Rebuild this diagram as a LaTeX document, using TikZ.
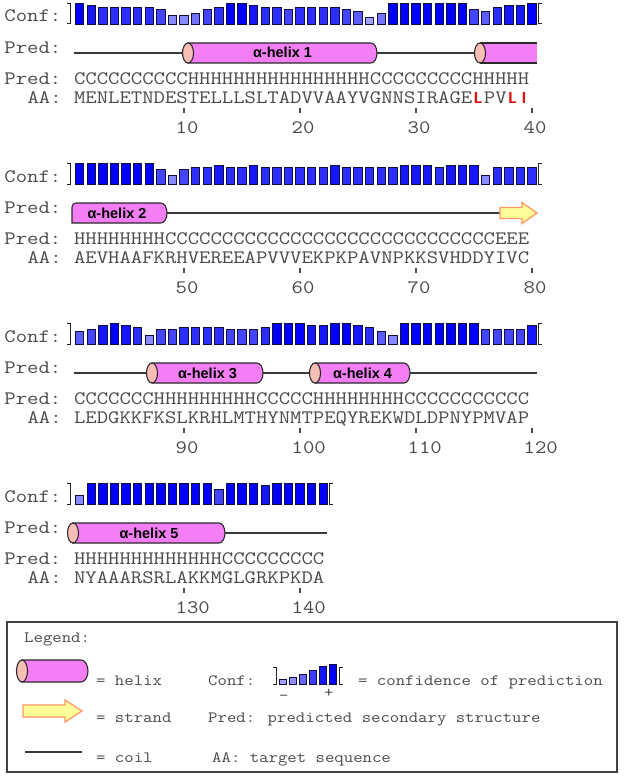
\documentclass[tikz,border=0pt]{standalone}
\usepackage{graphicx}
\usepackage{fontspec}
\setmainfont{Liberation Sans}
\newcommand\seqfont{\ttfamily\fontsize{19}{19}\selectfont}
\newcommand\legfont{\ttfamily\fontsize{15.7}{15.7}\selectfont}
\newcommand\hlxfont{\bfseries\fontsize{14.5}{14.5}\selectfont}
\newcommand\sq[1]{\scalebox{1.163}[1]{#1}}
\definecolor{txt}{HTML}{4A4A4A}
\definecolor{hlx}{HTML}{F47EF4}
\definecolor{hcap}{HTML}{F8BDB5}
\definecolor{outl}{HTML}{2A2A2A}
\definecolor{strf}{HTML}{FFFF99}
\definecolor{strd}{HTML}{FF9966}
\definecolor{barline}{HTML}{101040}
\definecolor{coilc}{HTML}{3A3A3A}
\definecolor{redres}{HTML}{DD1515}
\newcommand\redres[1]{\makebox[9.975pt][c]{\scalebox{0.86}[1]{\color{redres}\sffamily\bfseries\fontsize{16}{16}\selectfont #1}}}
\tikzset{
  lbl/.style={anchor=base west, inner sep=0pt, font=\seqfont, text=txt},
  leg/.style={anchor=base west, inner sep=0pt, font=\legfont, text=txt},
  hlxbody/.style={fill=hlx, draw=outl, line width=1.1pt},
  hlxcap/.style={fill=hcap, draw=outl, line width=1.1pt},
  coilline/.style={draw=coilc, line width=1.4pt},
  strandarrow/.style={fill=strf, draw=strd, line width=1.3pt, line join=miter},
  confbar/.style={draw=barline, line width=0.7pt},
  brk/.style={draw=black!85, line width=1pt},
  tickmark/.style={draw=txt, line width=1.4pt},
  hlxlabel/.style={font=\hlxfont, inner sep=0pt, text=black, anchor=base},
}
% helix with entry cap: xl, xr, yc, label, name
\newcommand\helixfull[5]{%
  \filldraw[hlxbody] (#1,#3-10) -- (#2-6,#3-10) arc[start angle=-90,end angle=90,x radius=6,y radius=10] -- (#1,#3+10) -- cycle;
  \filldraw[hlxcap] (#1,#3) ellipse[x radius=5.5,y radius=10];
  \node[hlxlabel] (#5) at ({(#1+#2)/2},#3+5) {#4};
}
% conf bars: y0, list
\newcommand\confrow[2]{%
  \foreach \c [count=\i] in {#2} {
    \pgfmathsetmacro\xc{79.6+(\i-1)*11.6}
    \pgfmathsetmacro\hh{3+2*\c}
    \pgfmathtruncatemacro\pp{100-(9-\c)*9}
    \filldraw[confbar, fill=blue!\pp!white] (\xc-4.2,#1+24) rectangle (\xc+4.2,#1+24-\hh);
  }
}
% brackets: y0, x of right bracket
\newcommand\confbrk[2]{%
  \draw[brk] (67,#1+3.5) -- (70.5,#1+3.5) -- (70.5,#1+24) -- (67,#1+24);
  \draw[brk] (#2+3.5,#1+3.5) -- (#2,#1+3.5) -- (#2,#1+24) -- (#2+3.5,#1+24);
}
\newcommand\ticklab[4]{% x, y0, label, name
  \draw[tickmark] (#1,#2+108) -- (#1,#2+113);
  \node[lbl] (#4) at (#1-8.5,#2+133) {\sq{#3}};
}
\begin{document}
\begin{tikzpicture}[x=1pt,y=-1pt]
\useasboundingbox (0,0) rectangle (625,776);
\fill[white] (0,0) rectangle (625,776);

% ---------------- block 1 ----------------
\node[lbl] (c1) at (4.2,22) {\sq{Conf:}};
\confrow{0}{9,8,7,7,7,7,7,6,3,3,4,6,7,9,9,8,7,7,6,7,7,7,7,6,5,2,4,9,9,9,9,9,9,9,6,5,7,8,8,9}
\confbrk{0}{538.5}
\node[lbl] (p1) at (4.2,53) {\sq{Pred:}};
\draw[coilline] (73.5,53) -- (188,53);
\draw[coilline] (377,53) -- (480,53);
\helixfull{188}{377}{53}{α-helix 1}{h1}
\fill[hlx] (480,43) rectangle (537,63);
\draw[hlxbody, fill=none] (480,43) -- (537,43) (480,63) -- (537,63);
\filldraw[hlxcap] (480,53) ellipse[x radius=5.5,y radius=10];
\node[lbl] (ps1) at (4.2,84.5) {\sq{Pred:}};
\node[lbl] (s1) at (73.8,84.5) {\sq{CCCCCCCCCCHHHHHHHHHHHHHHHHCCCCCCCCCHHHHH}};
\node[lbl] (a1) at (27.4,103) {\sq{AA:}};
\node[lbl] (aa1) at (73.8,103) {\sq{MENLETNDESTELLLSLTADVVAAYVGNNSIRAGE\redres{L}PV\redres{L}\redres{I}}};
\ticklab{184}{0}{10}{n10}
\ticklab{300}{0}{20}{n20}
\ticklab{416}{0}{30}{n30}
\ticklab{532}{0}{40}{n40}

% ---------------- block 2 ----------------
\node[lbl] (c2) at (4.2,182) {\sq{Conf:}};
\confrow{160}{9,9,9,9,9,9,9,6,3,6,7,7,8,7,7,8,7,7,7,7,7,7,8,7,7,7,7,7,8,8,8,7,8,8,8,3,7,7,7,7}
\confbrk{160}{538.5}
\node[lbl] (p2) at (4.2,213) {\sq{Pred:}};
\draw[coilline] (167,213) -- (500,213);
\filldraw[hlxbody] (161,203) arc[start angle=-90,end angle=90,x radius=6,y radius=10] -- (72,223) [rounded corners=4] -- (72,203) [sharp corners] -- cycle;
\node[hlxlabel] (h2) at (117,218) {α-helix 2};
\filldraw[strandarrow] (500,207.5) -- (522,207.5) -- (522,202.5) -- (537,213) -- (522,223.5) -- (522,218.5) -- (500,218.5) -- cycle;
\node[lbl] (ps2) at (4.2,244.5) {\sq{Pred:}};
\node[lbl] (s2) at (73.8,244.5) {\sq{HHHHHHHHCCCCCCCCCCCCCCCCCCCCCCCCCCCCCEEE}};
\node[lbl] (a2) at (27.4,263) {\sq{AA:}};
\node[lbl] (aa2) at (73.8,263) {\sq{AEVHAAFKRHVEREEAPVVVEKPKPAVNPKKSVHDDYIVC}};
\ticklab{184}{160}{50}{n50}
\ticklab{300}{160}{60}{n60}
\ticklab{416}{160}{70}{n70}
\ticklab{532}{160}{80}{n80}

% ---------------- block 3 ----------------
\node[lbl] (c3) at (4.2,342) {\sq{Conf:}};
\confrow{320}{5,6,8,9,8,7,3,6,6,7,7,7,7,6,6,6,7,9,9,9,8,8,9,9,8,7,5,3,9,9,9,9,9,9,9,6,6,6,6,8}
\confbrk{320}{538.5}
\node[lbl] (p3) at (4.2,373) {\sq{Pred:}};
\draw[coilline] (73.5,373) -- (152,373);
\draw[coilline] (263,373) -- (315,373);
\draw[coilline] (410,373) -- (537,373);
\helixfull{152}{263}{373}{α-helix 3}{h3}
\helixfull{315}{410}{373}{α-helix 4}{h4}
\node[lbl] (ps3) at (4.2,404.5) {\sq{Pred:}};
\node[lbl] (s3) at (73.8,404.5) {\sq{CCCCCCCHHHHHHHHHCCCCCHHHHHHHHCCCCCCCCCCC}};
\node[lbl] (a3) at (27.4,423) {\sq{AA:}};
\node[lbl] (aa3) at (73.8,423) {\sq{LEDGKKFKSLKRHLMTHYNMTPEQYREKWDLDPNYPMVAP}};
\ticklab{184}{320}{90}{n90}
\ticklab{300}{320}{100}{n100}
\ticklab{416}{320}{110}{n110}
\ticklab{532}{320}{120}{n120}

% ---------------- block 4 ----------------
\node[lbl] (c4) at (4.2,502) {\sq{Conf:}};
\confrow{480}{3,9,9,9,9,9,9,9,9,9,9,9,6,9,9,9,8,9,9,9,9,9}
\confbrk{480}{329.5}
\node[lbl] (p4) at (4.2,533) {\sq{Pred:}};
\draw[coilline] (225,533) -- (327,533);
\helixfull{73}{225}{533}{α-helix 5}{h5}
\node[lbl] (ps4) at (4.2,564.5) {\sq{Pred:}};
\node[lbl] (s4) at (73.8,564.5) {\sq{HHHHHHHHHHHHHCCCCCCCCC}};
\node[lbl] (a4) at (27.4,583) {\sq{AA:}};
\node[lbl] (aa4) at (73.8,583) {\sq{NYAAARSRLAKKMGLGRKPKDA}};
\ticklab{184}{480}{130}{n130}
\ticklab{300}{480}{140}{n140}

% ---------------- legend ----------------
\draw[draw=black!75, line width=1.5pt] (7,622) rectangle (617,772);
\node[leg] (lg) at (24,642) {\sq{Legend:}};
\filldraw[hlxbody] (22,660) -- (81,660) arc[start angle=-90,end angle=90,x radius=7,y radius=11] -- (22,682) -- cycle;
\filldraw[hlxcap] (22,671) ellipse[x radius=5.5,y radius=11];
\node[leg] (lh) at (96,685) {\sq{= helix}};
\filldraw[strandarrow] (23,705) -- (65,705) -- (65,700) -- (82,711) -- (65,722) -- (65,717) -- (23,717) -- cycle;
\node[leg] (ls) at (96,722) {\sq{= strand}};
\draw[coilline] (25,752) -- (82,752);
\node[leg] (lc) at (96,762) {\sq{= coil}};
\node[leg] (lcf) at (208,685) {\sq{Conf:}};
\draw[brk] (273,667) -- (276,667) -- (276,684) -- (273,684);
\foreach \c [count=\i] in {1,2,4,6,8,9} {
  \pgfmathsetmacro\xc{283+(\i-1)*10}
  \pgfmathsetmacro\hh{2.5+1.9*\c}
  \pgfmathtruncatemacro\pp{100-(9-\c)*8}
  \filldraw[confbar, fill=blue!\pp!white] (\xc-3.5,684) rectangle (\xc+3.5,684-\hh);
}
\draw[brk] (342.5,667) -- (339.5,667) -- (339.5,684) -- (342.5,684);
\node[leg] (lminus) at (279,700) {\sq{-}};
\node[leg] (lplus) at (324,697) {\sq{+}};
\node[leg] (lcd) at (358,685) {\sq{= confidence of prediction}};
\node[leg] (lpd) at (208,722) {\sq{Pred: predicted secondary structure}};
\node[leg] (laa) at (212,762) {\sq{AA: target sequence}};
\end{tikzpicture}
\end{document}
